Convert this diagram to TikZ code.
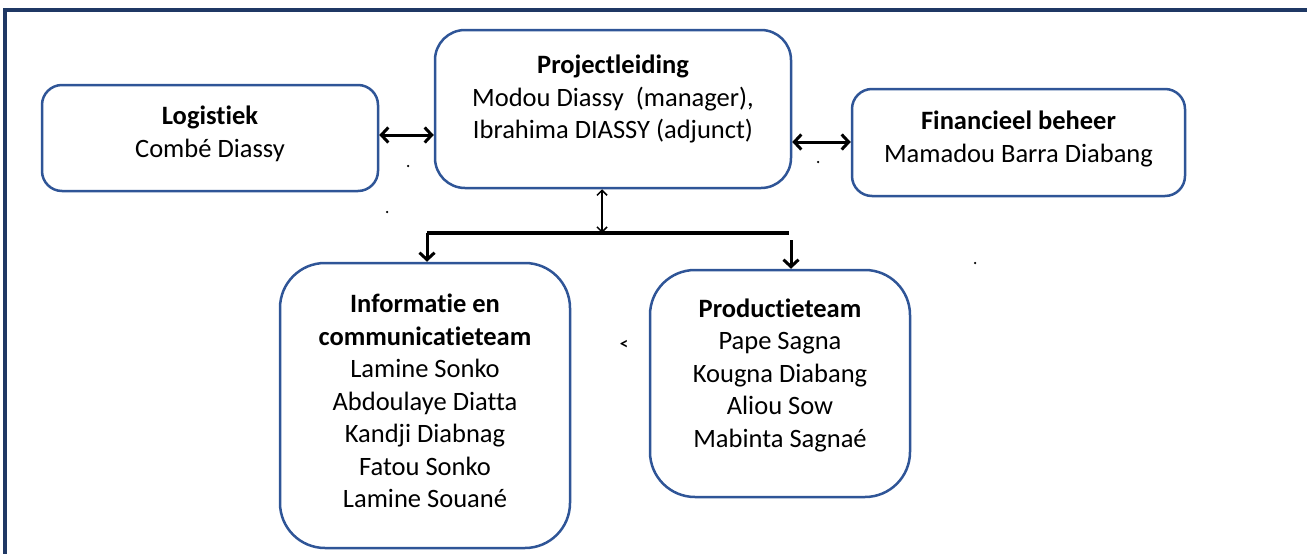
\documentclass[tikz,border=0pt]{standalone}
\usepackage{fontspec}
\setmainfont{Carlito}[Ligatures=NoCommon]
\usetikzlibrary{arrows.meta}
\definecolor{boxblue}{RGB}{47,85,151}
\definecolor{framenavy}{RGB}{31,56,100}
\tikzset{
  orgbox/.style={draw=boxblue, line width=2.5pt, fill=white, inner sep=0pt},
  orgtext/.style={align=center, font=\fontsize{26.5}{32.5}\selectfont, inner sep=0pt},
  conn/.style={line width=3pt, {Straight Barb[length=7pt,width=15pt,line width=3pt]}-{Straight Barb[length=7pt,width=15pt,line width=3pt]}},
  thinconn/.style={line width=1.5pt, {Straight Barb[length=5pt,width=10pt,line width=1.5pt]}-{Straight Barb[length=5pt,width=10pt,line width=1.5pt]}},
  downarrow/.style={line width=3pt, -{Straight Barb[length=7pt,width=15pt,line width=3pt]}},
  speck/.style={fill=black, circle, inner sep=0pt, minimum size=2.5pt}
}
\begin{document}
\begin{tikzpicture}[x=1pt,y=-1pt]
\useasboundingbox (0,0) rectangle (1307,554);
% frame
\draw[framenavy, line width=4pt] (5,554) -- (5,10) -- (1307,10);
% boxes
\node[orgbox, rounded corners=20pt, minimum width=336pt, minimum height=106pt] (log) at (210,138) {};
\node[orgbox, rounded corners=30pt, minimum width=356pt, minimum height=158pt] (pl) at (613,109) {};
\node[orgbox, rounded corners=20pt, minimum width=333pt, minimum height=107pt] (fin) at (1018.5,142.5) {};
\node[orgbox, rounded corners=45pt, minimum width=290pt, minimum height=285pt] (info) at (425,405.5) {};
\node[orgbox, rounded corners=45pt, minimum width=260pt, minimum height=227pt] (prod) at (780,383.5) {};
% texts
\node[orgtext] (logt) at (210,134) {\textbf{Logistiek}\\Combé Diassy};
\node[orgtext] (plt) at (613,99) {\textbf{Projectleiding}\\Modou Diassy \ (manager),\\Ibrahima DIASSY (adjunct)};
\node[orgtext] (fint) at (1018.5,139) {\textbf{Financieel beheer}\\Mamadou Barra Diabang};
\node[orgtext] (infot) at (425,401) {\textbf{Informatie en}\\\textbf{communicatieteam}\\Lamine Sonko\\Abdoulaye Diatta\\Kandji Diabnag\\Fatou Sonko\\Lamine Souané};
\node[orgtext] (prodt) at (780,375) {\textbf{Productieteam}\\Pape Sagna\\Kougna Diabang\\Aliou Sow\\Mabinta Sagnaé};
% helper coordinates
\coordinate (ya) at (0,135);
\coordinate (yb) at (0,142);
\coordinate (hl1) at (427,233);
\coordinate (hl2) at (789,233);
\coordinate (vmid) at (602,233);
\coordinate (rtop) at (791,240);
% connectors
\draw[conn] (log.east |- ya) -- (pl.west |- ya);
\draw[conn] (pl.east |- yb) -- (fin.west |- yb);
\draw[line width=3.5pt] (hl1) -- (hl2);
\draw[thinconn] (pl.south -| vmid) -- (vmid);
\draw[downarrow] (hl1) -- (hl1 |- info.north);
\draw[downarrow] (rtop) -- (rtop |- prod.north);
% stray marks
\node[speck] (s1) at (408,166) {};
\node[speck] (s2) at (387,212) {};
\node[speck] (s3) at (818,162) {};
\node[speck] (s4) at (975,263) {};
\node[font=\fontsize{17}{17}\selectfont\bfseries, inner sep=0pt] (s5) at (624,345) {<};
\end{tikzpicture}
\end{document}
